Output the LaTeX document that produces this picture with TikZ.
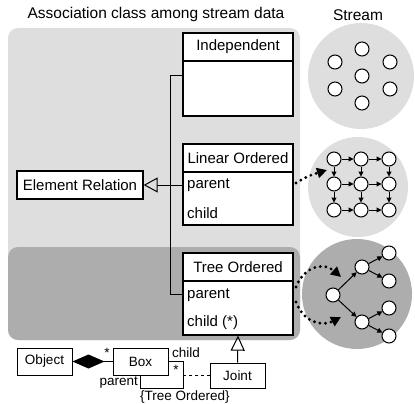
\documentclass[tikz,border=0pt]{standalone}
\usepackage{fontspec}
\setmainfont{Liberation Sans}
\usetikzlibrary{arrows.meta,calc}
\begin{document}
\begin{tikzpicture}[x=1pt,y=-1pt,
  cls/.style={draw,line width=1.3pt,fill=white,minimum width=110pt,inner sep=0pt,font=\fontsize{15}{18}\selectfont},
  attr/.style={anchor=west,inner sep=0pt,font=\fontsize{15}{18}\selectfont},
  small/.style={draw,line width=1pt,fill=white,inner sep=0pt,font=\fontsize{13.5}{16}\selectfont},
  lbl/.style={inner sep=0pt,font=\fontsize{13.5}{16}\selectfont},
  title/.style={inner sep=0pt,font=\fontsize{15.5}{18}\selectfont},
  elem/.style={circle,draw,line width=1pt,fill=white,minimum size=14pt,inner sep=0pt},
  link/.style={line width=1pt,-{Triangle[length=5pt,width=5pt]}},
  conn/.style={line width=1pt},
  lightdot/.style={fill=black!13},
  darkdot/.style={fill=black!32},
  fat/.style={line width=3.2pt,line cap=round,dash pattern=on 0pt off 5.6pt,
              -{Triangle[length=10pt,width=10pt]}}
]
\useasboundingbox (0,0) rectangle (415,404);

% shaded panels behind the classes
\fill[lightdot,rounded corners=10pt] (8,28) rectangle (300,340);
\fill[darkdot,rounded corners=10pt] (8,247) rectangle (300,340);

% stream backgrounds
\fill[lightdot] (361,76) circle (53pt);
\fill[lightdot] (358,187) circle (50pt);
\fill[darkdot] (357,294) circle (55pt);

% headings
\node[title] (hdL) at (156,14) {Association class among stream data};
\node[title] (hdR) at (358,15) {Stream};

% association classes
\node[cls,minimum height=28pt] (indH) at (238,47) {Independent};
\node[cls,minimum height=55pt] (indB) at (238,88.5) {};

\node[cls,minimum height=28pt] (linH) at (238,158) {Linear Ordered};
\node[cls,minimum height=53pt] (linB) at (238,198.5) {};
\node[attr] (linP) at (187,185) {parent};
\node[attr] (linC) at (187,213) {child};

\node[cls,minimum height=28pt] (treeH) at (238,267) {Tree Ordered};
\node[cls,minimum height=54pt] (treeB) at (238,308) {};
\node[attr] (treeP) at (187,295) {parent};
\node[attr] (treeC) at (187,323) {child (*)};

\node[cls,minimum width=126pt,minimum height=28pt] (rel) at (80,185) {Element Relation};

% generalization to Element Relation
\coordinate (busT) at (170,76);
\coordinate (busB) at (170,294);
\draw[conn] (indB.west |- busT) -- (busT) -- (busB) -- (treeB.west |- busB);
\draw[conn,-{Triangle[open,length=14pt,width=15pt]}] (linB.west |- linP) -- (rel.east);

% tree structure of boxes
\node[small,minimum width=55pt,minimum height=27pt] (obj) at (44.5,361.5) {Object};
\node[small,minimum width=55pt,minimum height=27pt] (boxN) at (140.5,361.5) {Box};
\node[small,minimum width=55pt,minimum height=25pt] (joint) at (237.5,375.5) {Joint};
\draw[conn,-{Diamond[length=32pt,width=14pt]}] (boxN.west) -- (obj.east);
\coordinate (loopC) at (183,388);
\draw[conn] (boxN.east) -| (loopC) -| (boxN.south);
\coordinate (assoc) at (183,375.5);
\draw[conn,dashed] (joint.west) -- (assoc);
\draw[conn,-{Triangle[open,length=15pt,width=14pt]}] (joint.north) -- (treeB.south);
\node[lbl] (mStar) at (107,353) {*};
\node[lbl,anchor=west] (chL) at (172,353) {child};
\node[lbl] (cStar) at (176,370) {*};
\node[lbl,anchor=east] (paL) at (138,383) {parent};
\node[lbl] (tOrd) at (185,397) {\{Tree Ordered\}};

% independent elements
\foreach \n/\x/\y in {s1/362/49,s2/335/62,s3/390/62,s4/362/76,s5/335/89,s6/390/89,s7/362/103}
  \node[elem] (\n) at (\x,\y) {};

% linearly ordered elements
\foreach \r/\y in {1/159,2/184,3/210}
  \foreach \c/\x in {1/334,2/361,3/389}
    \node[elem] (g\r\c) at (\x,\y) {};
\foreach \r in {1,2,3}{
  \draw[link] (g\r1) -- (g\r2);
  \draw[link] (g\r2) -- (g\r3);
}
\foreach \c in {1,2,3}{
  \draw[link] (g1\c) -- (g2\c);
  \draw[link] (g2\c) -- (g3\c);
}

% tree ordered elements
\node[elem] (tr) at (333,295) {};
\node[elem] (ta) at (362,267) {};
\node[elem] (tb) at (362,322) {};
\node[elem] (ta1) at (389,253) {};
\node[elem] (ta2) at (389,281) {};
\node[elem] (tb1) at (389,308) {};
\node[elem] (tb2) at (389,336) {};
\draw[link] (tr) -- (ta);
\draw[link] (tr) -- (tb);
\draw[link] (ta) -- (ta1);
\draw[link] (ta) -- (ta2);
\draw[link] (tb) -- (tb1);
\draw[link] (tb) -- (tb2);

% roles pointing into the streams
\coordinate (linS) at (296,183);
\coordinate (linT) at (327,170);
\draw[fat] (linS) .. controls (308,176) .. (linT);
\coordinate (tpS) at (296,287);
\coordinate (tpT) at (341,277);
\draw[fat] (tpS) .. controls (304,266) and (324,262) .. (tpT);
\coordinate (tcS) at (296,302);
\coordinate (tcT) at (341,317);
\draw[fat] (tcS) .. controls (304,324) and (324,326) .. (tcT);
\end{tikzpicture}
\end{document}
